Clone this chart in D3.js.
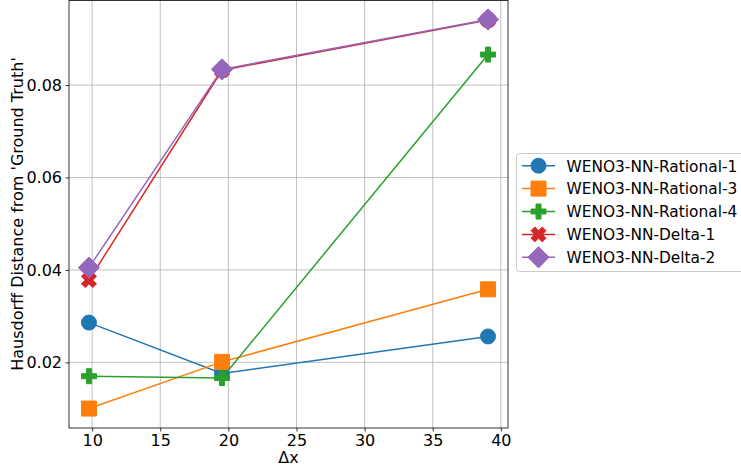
<!DOCTYPE html>
<html>
<head>
<meta charset="utf-8">
<script src="https://cdn.jsdelivr.net/npm/d3@7"></script>
<style>
  html, body { margin: 0; padding: 0; background: #fff; }
  svg { display: block; font-family: "DejaVu Sans", sans-serif; }
</style>
</head>
<body>
<svg id="chart" width="741" height="467"></svg>
<script>
// Grid spacing Δx and the Hausdorff distance of each scheme at that spacing
const dx = [9.765625, 19.53125, 39.0625];
const rational1 = [0.0286, 0.0176, 0.0256];
const rational3 = [0.0100, 0.0201, 0.0358];
const rational4 = [0.0170, 0.0166, 0.0866];
const delta1 = [0.0378, 0.0832, 0.0941];
const delta2 = [0.0405, 0.0834, 0.0942];

const seriesNames = ["WENO3-NN-Rational-1", "WENO3-NN-Rational-3", "WENO3-NN-Rational-4", "WENO3-NN-Delta-1", "WENO3-NN-Delta-2"];
const seriesValues = [rational1, rational3, rational4, delta1, delta2];
const seriesColors = ["#1f77b4", "#ff7f0e", "#2ca02c", "#d62728", "#9467bd"];
const seriesMarkers = ["circle", "square", "plus", "x", "diamond"];

const xTicks = [10, 15, 20, 25, 30, 35, 40];
const yTicks = [0.02, 0.04, 0.06, 0.08];
const xLabel = "Δx";
const yLabel = "Hausdorff Distance from 'Ground Truth'";

const svg = d3.select("#chart");
const plot = { left: 69, right: 508, top: 0, bottom: 428 };
const fontSize = 16;
const legendFontSize = 15.4;
const ms = 15;

// Axis limits padded by 5% of the data range on each side
function padded(ext) {
  const pad = (ext[1] - ext[0]) * 0.05;
  return [ext[0] - pad, ext[1] + pad];
}
const allY = seriesValues.flat();
const x = d3.scaleLinear().domain(padded(d3.extent(dx))).range([plot.left, plot.right]);
const y = d3.scaleLinear().domain(padded(d3.extent(allY))).range([plot.bottom, plot.top]);

// Grid
const grid = svg.append("g").attr("stroke", "#b0b0b0").attr("stroke-width", 0.8);
xTicks.forEach(t => grid.append("line")
  .attr("x1", x(t)).attr("x2", x(t)).attr("y1", plot.top).attr("y2", plot.bottom));
yTicks.forEach(t => grid.append("line")
  .attr("x1", plot.left).attr("x2", plot.right).attr("y1", y(t)).attr("y2", y(t)));

// Axes
const xAxis = d3.axisBottom(x).tickValues(xTicks).tickFormat(d3.format("d")).tickSize(3.5).tickPadding(3.5);
const yAxis = d3.axisLeft(y).tickValues(yTicks).tickFormat(d3.format(".2f")).tickSize(3.5).tickPadding(3.5);

function styleAxis(g) {
  g.attr("font-size", null).attr("font-family", null);
  g.select(".domain").remove();
  g.selectAll(".tick line").attr("stroke", "#000").attr("stroke-width", 0.8);
  g.selectAll(".tick text").attr("fill", "#000").style("font-size", fontSize + "px")
    .style("font-family", "'DejaVu Sans', sans-serif");
}
svg.append("g").attr("transform", `translate(0,${plot.bottom})`).call(xAxis).call(styleAxis);
svg.append("g").attr("transform", `translate(${plot.left},0)`).call(yAxis).call(styleAxis);

// Marker shapes (size = full extent in px)
function markerPath(kind, s) {
  const h = s / 2;
  if (kind === "circle") {
    const p = d3.path();
    p.moveTo(h, 0);
    p.arc(0, 0, h, 0, 2 * Math.PI);
    p.closePath();
    return p.toString();
  }
  if (kind === "square") return `M${-h},${-h}H${h}V${h}H${-h}Z`;
  if (kind === "diamond") {
    const d = h * Math.SQRT2;
    return `M0,${-d}L${d},0L0,${d}L${-d},0Z`;
  }
  if (kind === "plus") {
    const p = [[-1,-3],[-1,-1],[-3,-1],[-3,1],[-1,1],[-1,3],[1,3],[1,1],[3,1],[3,-1],[1,-1],[1,-3]];
    return "M" + p.map(v => [v[0] * s / 6, v[1] * s / 6].join(",")).join("L") + "Z";
  }
  if (kind === "x") {
    const p = [[-1,-2],[0,-1],[1,-2],[2,-1],[1,0],[2,1],[1,2],[0,1],[-1,2],[-2,1],[-1,0],[-2,-1]];
    return "M" + p.map(v => [v[0] * s / 4, v[1] * s / 4].join(",")).join("L") + "Z";
  }
  return "";
}

// Series: line then markers, in plotting order
svg.append("clipPath").attr("id", "plotclip").append("rect")
  .attr("x", plot.left).attr("y", plot.top).attr("width", plot.right - plot.left).attr("height", plot.bottom - plot.top);
const series = svg.append("g").attr("clip-path", "url(#plotclip)");
const line = d3.line().x(d => x(d[0])).y(d => y(d[1]));

seriesValues.forEach((vals, i) => {
  const pts = dx.map((d, j) => [d, vals[j]]);
  const g = series.append("g");
  g.append("path").attr("d", line(pts)).attr("fill", "none")
    .attr("stroke", seriesColors[i]).attr("stroke-width", 1.5);
  g.selectAll("path.m").data(pts).enter().append("path").attr("class", "m")
    .attr("transform", d => `translate(${x(d[0])},${y(d[1])})`)
    .attr("d", markerPath(seriesMarkers[i], ms))
    .attr("fill", seriesColors[i]).attr("stroke", seriesColors[i]).attr("stroke-width", 1);
});

// Spines
const spines = svg.append("g").attr("stroke", "#000").attr("stroke-width", 0.8).attr("fill", "none");
spines.append("rect").attr("x", plot.left).attr("y", plot.top + 0.4)
  .attr("width", plot.right - plot.left).attr("height", plot.bottom - plot.top - 0.4);

// Axis labels
svg.append("text").attr("x", (plot.left + plot.right) / 2).attr("y", 463)
  .attr("text-anchor", "middle").style("font-size", fontSize + "px").text(xLabel);
svg.append("text").attr("transform", `translate(23,${(plot.top + plot.bottom) / 2}) rotate(-90)`)
  .attr("text-anchor", "middle").style("font-size", fontSize + "px").text(yLabel);

// Legend
const legend = svg.append("g");
legend.append("rect").attr("x", 516.5).attr("y", 153.5).attr("width", 240).attr("height", 118)
  .attr("rx", 3).attr("fill", "#fff").attr("fill-opacity", 0.8).attr("stroke", "#cccccc").attr("stroke-width", 1);
const rowY = d3.scaleLinear().domain([0, seriesNames.length - 1]).range([165.7, 257.3]);
seriesNames.forEach((name, i) => {
  const cy = rowY(i);
  legend.append("line").attr("x1", 522).attr("x2", 555).attr("y1", cy).attr("y2", cy)
    .attr("stroke", seriesColors[i]).attr("stroke-width", 1.5);
  legend.append("path").attr("transform", `translate(538.5,${cy})`)
    .attr("d", markerPath(seriesMarkers[i], ms))
    .attr("fill", seriesColors[i]).attr("stroke", seriesColors[i]).attr("stroke-width", 1);
  legend.append("text").attr("x", 566.5).attr("y", cy + 5.8)
    .style("font-size", legendFontSize + "px").text(name);
});
</script>
</body>
</html>
